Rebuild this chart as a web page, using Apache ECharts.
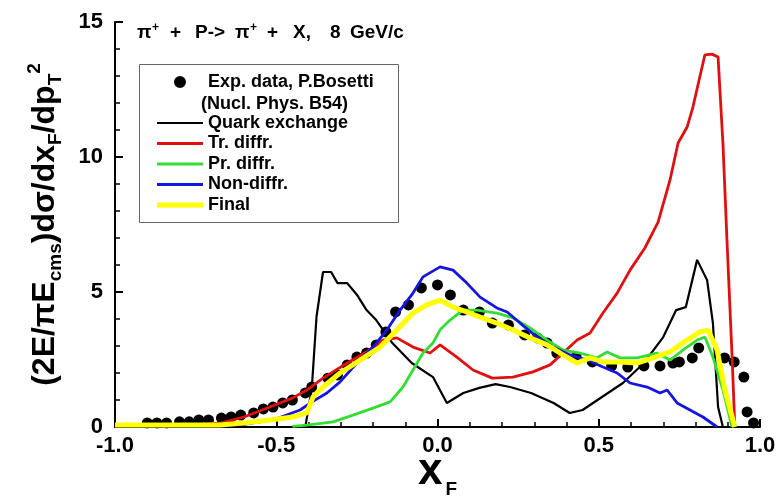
<!DOCTYPE html>
<html><head><meta charset="utf-8">
<script src="https://cdn.jsdelivr.net/npm/echarts@6/dist/echarts.min.js"></script>
<style>html,body{margin:0;padding:0;background:#fff}#c{width:780px;height:502px}</style>
</head><body><div id="c"></div>
<script>
// Experimental data (P. Bosetti)
const expX = [-0.90,-0.87,-0.84,-0.80,-0.77,-0.74,-0.71,-0.67,-0.64,-0.61,-0.57,-0.54,-0.51,-0.48,-0.45,-0.41,-0.39,-0.34,-0.31,-0.28,-0.25,-0.22,-0.19,-0.16,-0.13,-0.09,-0.05,0.00,0.04,0.08,0.13,0.17,0.22,0.27,0.31,0.34,0.37,0.43,0.48,0.54,0.59,0.64,0.69,0.73,0.75,0.79,0.81,0.89,0.92,0.95,0.96,0.98];
const expY = [0.15,0.15,0.15,0.19,0.19,0.26,0.26,0.33,0.37,0.44,0.52,0.67,0.74,0.89,1.00,1.26,1.48,1.81,1.93,2.30,2.59,2.74,3.04,3.52,4.26,4.52,5.15,5.26,4.89,4.33,4.26,3.85,3.78,3.41,3.30,3.11,2.74,2.59,2.41,2.26,2.22,2.26,2.26,2.37,2.41,2.56,2.93,2.56,2.41,1.85,0.56,0.15];
// Quark exchange
const qX = [-0.42,-0.41,-0.39,-0.375,-0.355,-0.33,-0.31,-0.28,-0.25,-0.22,-0.19,-0.14,-0.08,-0.014,0.029,0.08,0.13,0.18,0.225,0.29,0.36,0.41,0.45,0.51,0.575,0.64,0.70,0.74,0.77,0.805,0.836,0.854,0.87,0.885];
const qY = [0,0,1.4,4.1,5.74,5.74,5.33,5.33,4.9,4.33,3.96,3.11,2.37,1.85,0.89,1.26,1.45,1.59,1.48,1.26,0.89,0.52,0.63,1.11,1.63,2.37,3.33,4.33,4.44,6.19,5.44,3.85,0.74,0];
// Tr. diffr.
const tX = [-0.85,-0.8,-0.74,-0.67,-0.60,-0.52,-0.45,-0.405,-0.355,-0.28,-0.22,-0.17,-0.126,-0.076,-0.023,0.008,0.06,0.11,0.17,0.234,0.296,0.349,0.389,0.433,0.473,0.513,0.557,0.597,0.643,0.684,0.721,0.746,0.774,0.792,0.829,0.851,0.870,0.885,0.898,0.913,0.922];
const tY = [0.03,0.06,0.1,0.15,0.37,0.74,1.07,1.37,1.81,2.37,2.78,3.22,3.30,2.96,2.74,3.04,2.59,2.11,1.81,1.85,2.04,2.30,2.74,3.22,3.48,4.22,4.96,5.81,6.63,7.59,9.15,10.52,11.11,11.85,13.78,13.81,13.70,10.52,6.81,2.74,0];
// Pr. diffr.
const pX = [-0.45,-0.405,-0.324,-0.262,-0.20,-0.147,-0.107,-0.076,-0.045,-0.014,0.008,0.039,0.079,0.122,0.184,0.203,0.234,0.287,0.340,0.389,0.442,0.494,0.526,0.566,0.619,0.680,0.721,0.761,0.805,0.829,0.854,0.885,0.913];
const pY = [0.02,0.07,0.19,0.44,0.70,0.93,1.48,2.11,2.74,3.11,3.60,3.96,4.33,4.33,4.22,4.15,4.04,3.67,3.22,2.85,2.74,2.56,2.78,2.56,2.56,2.74,2.48,2.85,3.22,3.33,2.59,1.37,0];
// Non-diffr.
const nX = [-0.65,-0.6,-0.51,-0.426,-0.389,-0.343,-0.302,-0.25,-0.20,-0.157,-0.116,-0.076,-0.045,0.008,0.048,0.091,0.132,0.184,0.216,0.256,0.309,0.358,0.411,0.464,0.513,0.557,0.597,0.650,0.690,0.712,0.743,0.783,0.823,0.867];
const nY = [0.05,0.1,0.26,0.63,0.93,1.26,1.67,2.37,2.96,3.59,4.33,4.96,5.56,5.93,5.81,5.33,4.81,4.41,4.26,3.85,3.33,2.96,2.67,2.48,2.22,2.00,1.63,1.48,1.26,1.37,0.89,0.63,0.37,0];
// Final
const fX = [-1.0,-0.674,-0.603,-0.519,-0.448,-0.405,-0.386,-0.355,-0.302,-0.240,-0.178,-0.126,-0.076,-0.033,0.008,0.048,0.091,0.132,0.184,0.234,0.287,0.340,0.389,0.433,0.473,0.513,0.566,0.619,0.668,0.721,0.774,0.814,0.839,0.867,0.891,0.922];
const fY = [0.07,0.07,0.15,0.26,0.37,0.52,1.11,1.48,2.00,2.48,2.96,3.59,4.22,4.52,4.70,4.44,4.26,4.07,3.85,3.59,3.30,3.04,2.67,2.37,2.56,2.41,2.41,2.37,2.56,2.78,3.22,3.52,3.59,2.85,1.37,0];

const seriesNames = ['Exp. data, P.Bosetti','Quark exchange','Tr. diffr.','Pr. diffr.','Non-diffr.','Final'];
const seriesColors = ['#000000','#000000','#e01010','#33dd33','#1515e0','#ffff00'];
const xTicks = {min:-1, max:1, interval:0.5};
const yTicks = {min:0, max:15, interval:5};

const zip = (a,b) => a.map((v,i)=>[v,b[i]]);
const FF = '"Liberation Sans", Arial, sans-serif';

const chart = echarts.init(document.getElementById('c'), null, {renderer:'canvas'});
const lineS = (i, xs, ys, w) => ({
  name:seriesNames[i], type:'line', data: zip(xs,ys), symbol:'none', showSymbol:false,
  lineStyle:{color:seriesColors[i], width:w}, itemStyle:{color:seriesColors[i]}, z:3, animation:false
});
const legendText = {fontFamily:FF, fontWeight:'bold', fontSize:18, color:'#000', lineHeight:18};
const barIcon = h => 'path://M0,0H46V' + h + 'H0Z';
const dotIcon = 'path://M0,0L0.01,0L0,0.01ZM46,14L45.99,14L46,13.99ZM17,7A6,6 0 1 0 29,7A6,6 0 1 0 17,7Z';
const tm = w => ({fontSize:19, fontWeight:'bold', fontFamily:FF, fill:'#000', lineHeight:22, width:w});
const tp = w => ({fontSize:12, fontWeight:'bold', fontFamily:FF, fill:'#000', lineHeight:12, verticalAlign:'top', width:w});

chart.setOption({
  animation:false,
  backgroundColor:'#fff',
  textStyle:{fontFamily:FF},
  grid:{left:115, right:20, top:22, bottom:75, containLabel:false, outerBoundsMode:'none'},
  legend:[
    {data:[{name:seriesNames[0], icon:dotIcon}], orient:'vertical', left:157, top:73, padding:0,
     itemWidth:46, itemHeight:14, symbolKeepAspect:true, selectedMode:false, textStyle:legendText},
    {data:seriesNames.slice(1).map((n,i)=>({name:n, icon:barIcon(i===4?5:(i===0?2.2:2.8))})), orient:'vertical',
     left:157, top:114, padding:0, itemWidth:46, itemHeight:14, itemGap:2.5, symbolKeepAspect:true,
     selectedMode:false, textStyle:legendText}
  ],
  graphic:[
    {type:'rect', left:137, top:62, shape:{width:259, height:158}, style:{fill:'none', stroke:'#666', lineWidth:1}, z:1},
    {type:'text', left:201, top:95, style:{text:'(Nucl. Phys. B54)', fontFamily:FF, fontWeight:'bold', fontSize:18, fill:'#000'}, z:5},
    {type:'text', x:137, y:22, z:5,
     style:{text:'{a|π}{b|+}{c|+}{d|P->}{e|π}{f|+}{g|+}{h|X,}{i|8}{j|GeV/c}', rich:{
       a:tm(15), b:tp(18), c:tm(25), d:tm(40), e:tm(15), f:tp(17), g:tm(26), h:tm(37), i:tm(20), j:tm(null)
     }}}
  ],
  xAxis:{
    type:'value', min:xTicks.min, max:xTicks.max, interval:xTicks.interval,
    splitLine:{show:false},
    axisLine:{show:true, onZero:false, lineStyle:{color:'#000', width:2}},
    axisTick:{show:true, inside:true, length:8, lineStyle:{color:'#000', width:2}},
    minorTick:{show:true, splitNumber:5, length:5, lineStyle:{color:'#000', width:1.5}},
    axisLabel:{margin:8, color:'#000', fontSize:22, fontWeight:'bold', fontFamily:FF,
      formatter:v=>v.toFixed(1)},
    name:'{m|x}{s|F}', nameLocation:'middle', nameGap:23, nameMoveOverlap:false,
    nameTextStyle:{rich:{
      m:{fontSize:44, fontWeight:'bold', fontFamily:FF, color:'#000', lineHeight:40, verticalAlign:'top'},
      s:{fontSize:19, fontWeight:'bold', fontFamily:FF, color:'#000', lineHeight:2, verticalAlign:'top', padding:[30,0,0,3]}
    }}
  },
  yAxis:{
    type:'value', min:yTicks.min, max:yTicks.max, interval:yTicks.interval,
    splitLine:{show:false},
    axisLine:{show:true, onZero:false, lineStyle:{color:'#000', width:2}},
    axisTick:{show:true, inside:true, length:8, lineStyle:{color:'#000', width:2}},
    minorTick:{show:true, splitNumber:5, length:5, lineStyle:{color:'#000', width:1.5}},
    axisLabel:{margin:12, color:'#000', fontSize:22, fontWeight:'bold', fontFamily:FF},
    name:'{m|(2E/πE}{s|cms}{m|)dσ/dx}{s|F}{m|/dp}{s|T}{p|2}',
    nameLocation:'middle', nameRotate:90, nameGap:50,
    nameTextStyle:{rich:{
      m:{fontSize:32, fontWeight:'bold', fontFamily:FF, color:'#000', lineHeight:40},
      s:{fontSize:19, fontWeight:'bold', fontFamily:FF, color:'#000', lineHeight:6, verticalAlign:'bottom'},
      p:{fontSize:19, fontWeight:'bold', fontFamily:FF, color:'#000', lineHeight:2, verticalAlign:'top'}
    }}
  },
  series:[
    {name:seriesNames[0], type:'scatter', data:zip(expX,expY), symbol:'circle', symbolSize:11,
     itemStyle:{color:seriesColors[0], opacity:1}, z:2, animation:false},
    lineS(1, qX, qY, 2.2),
    lineS(2, tX, tY, 2.8),
    lineS(3, pX, pY, 2.8),
    lineS(4, nX, nY, 2.8),
    lineS(5, fX, fY, 5)
  ]
});
</script></body></html>
